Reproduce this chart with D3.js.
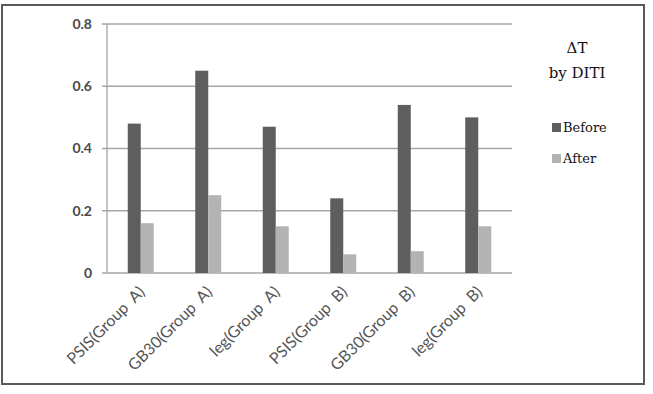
<!DOCTYPE html>
<html>
<head>
<meta charset="utf-8">
<script src="https://cdn.jsdelivr.net/npm/d3@7"></script>
<style>
  body { margin: 0; background: #fff; }
  svg { display: block; }
</style>
</head>
<body>
<div id="chart"></div>
<script>
// chart values
var categories = ["PSIS(Group  A)", "GB30(Group  A)", "leg(Group  A)", "PSIS(Group  B)", "GB30(Group  B)", "leg(Group  B)"];
var seriesNames = ["Before", "After"];
var beforeValues = [0.48, 0.65, 0.47, 0.24, 0.54, 0.50];
var afterValues = [0.16, 0.25, 0.15, 0.06, 0.07, 0.15];
var yTicks = [0, 0.2, 0.4, 0.6, 0.8];
var legendTitle = ["\u0394T", "by DITI"];

var colors = {Before: "#5e5e5e", After: "#b3b3b3"};

var W = 653, H = 394;
var margin = {top: 24, left: 107, right: 141, bottom: 121};
var width = W - margin.left - margin.right,
    height = H - margin.top - margin.bottom;

var svg = d3.select("#chart").append("svg")
    .attr("width", W)
    .attr("height", H);

// outer frame
svg.append("rect")
    .attr("x", 2).attr("y", 5)
    .attr("width", 642).attr("height", 379)
    .attr("fill", "#fff")
    .attr("stroke", "#5a5a5a")
    .attr("stroke-width", 2);

var g = svg.append("g")
    .attr("transform", "translate(" + margin.left + "," + margin.top + ")");

var x0 = d3.scaleBand().domain(categories).range([0, width]);
var barW = 13;
var x1 = d3.scaleBand().domain(seriesNames)
    .range([x0.bandwidth() / 2 - barW, x0.bandwidth() / 2 + barW]);
var y = d3.scaleLinear().domain([0, 0.8]).range([height, 0]);

// gridlines with outward ticks
g.selectAll(".grid")
    .data(yTicks)
  .enter().append("line")
    .attr("class", "grid")
    .attr("x1", -5).attr("x2", width)
    .attr("y1", function(d){ return y(d); })
    .attr("y2", function(d){ return y(d); })
    .attr("stroke", "#a6a6a6")
    .attr("stroke-width", 1.3);

// y axis line
g.append("line")
    .attr("x1", 0).attr("x2", 0)
    .attr("y1", 0).attr("y2", height)
    .attr("stroke", "#a6a6a6")
    .attr("stroke-width", 1.3);

// y labels
var yAxis = d3.axisLeft(y).tickValues(yTicks).tickSize(0).tickPadding(15)
    .tickFormat(function(d){ return d === 0 ? "0" : d3.format(".1f")(d); });
var yg = g.append("g").call(yAxis);
yg.select(".domain").remove();
yg.selectAll("text")
    .attr("fill", "#4a4a4a")
    .style("font-family", "Lato, 'Open Sans', sans-serif")
    .style("font-size", "14px")
    .style("font-weight", "bold");

// bars
var rows = categories.map(function(c, i){
  return {cat: c, vals: [{k: "Before", v: beforeValues[i]}, {k: "After", v: afterValues[i]}]};
});

var grp = g.selectAll(".cat")
    .data(rows)
  .enter().append("g")
    .attr("class", "cat")
    .attr("transform", function(d){ return "translate(" + x0(d.cat) + ",0)"; });

grp.selectAll("rect")
    .data(function(d){ return d.vals; })
  .enter().append("rect")
    .attr("x", function(d){ return x1(d.k); })
    .attr("width", x1.bandwidth())
    .attr("y", function(d){ return y(d.v); })
    .attr("height", function(d){ return height - y(d.v); })
    .attr("fill", function(d){ return colors[d.k]; });

// x labels, rotated
var xAxis = d3.axisBottom(x0).tickSize(0).tickPadding(0);
var xg = g.append("g")
    .attr("transform", "translate(0," + height + ")")
    .call(xAxis);
xg.select(".domain").remove();
xg.selectAll("text")
    .attr("fill", "#555")
    .style("font-family", "Lato, 'Open Sans', sans-serif")
    .style("font-size", "16px")
    .attr("text-anchor", "end")
    .attr("dy", "0")
    .attr("y", 0)
    .attr("transform", "translate(5,20) rotate(-45)")
    .attr("xml:space", "preserve")
    .style("white-space", "pre");

// legend
var leg = svg.append("g").attr("class", "legend");
leg.selectAll(".ttl")
    .data(legendTitle)
  .enter().append("text")
    .attr("class", "ttl")
    .attr("x", 577)
    .attr("y", function(d, i){ return 53 + i * 25; })
    .attr("text-anchor", "middle")
    .attr("fill", "#111")
    .style("font-family", "'DejaVu Serif', serif")
    .style("font-size", "15px")
    .text(function(d){ return d; });

var items = leg.selectAll(".item")
    .data(seriesNames)
  .enter().append("g")
    .attr("class", "item")
    .attr("transform", function(d, i){ return "translate(552," + (123 + i * 31) + ")"; });
items.append("rect")
    .attr("width", 9).attr("height", 9)
    .attr("fill", function(d){ return colors[d]; });
items.append("text")
    .attr("x", 11).attr("y", 9)
    .attr("fill", "#111")
    .style("font-family", "'DejaVu Serif', serif")
    .style("font-size", "13px")
    .text(function(d){ return d; });
</script>
</body>
</html>
